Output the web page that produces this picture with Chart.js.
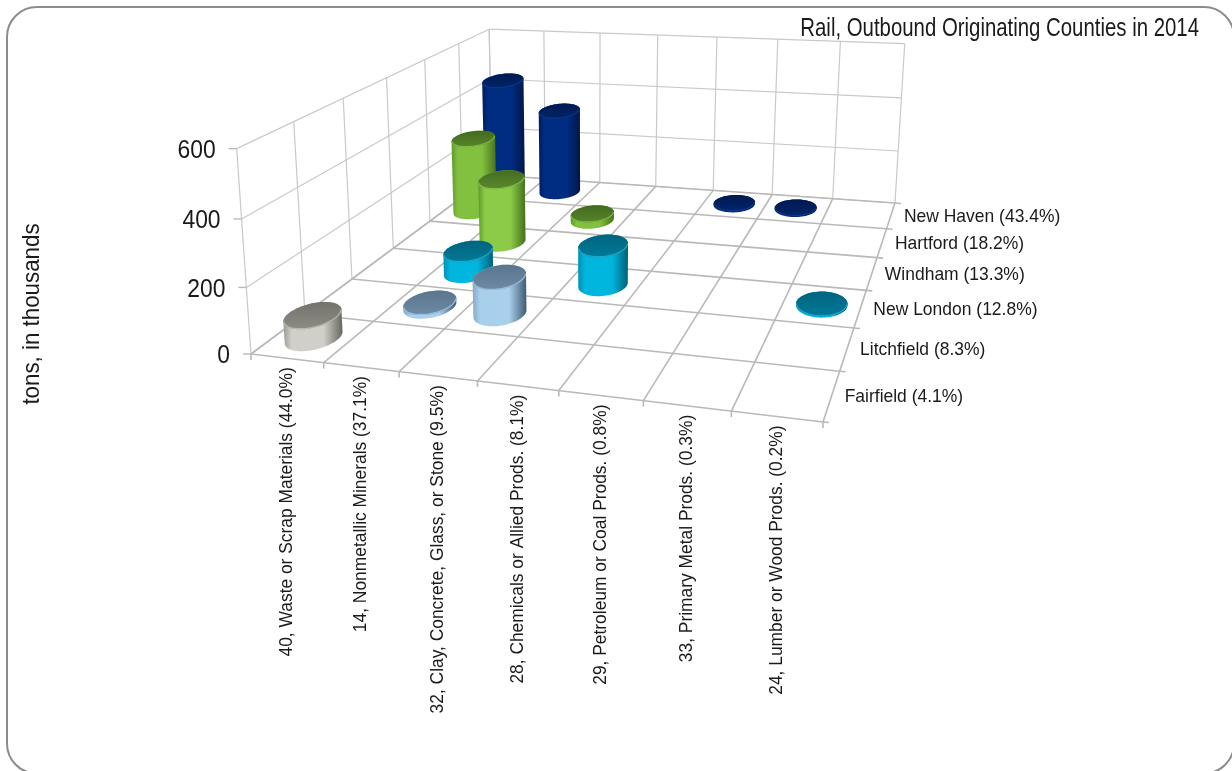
<!DOCTYPE html>
<html>
<head>
<meta charset="utf-8">
<title>Rail, Outbound Originating Counties in 2014</title>
<script src="https://cdn.jsdelivr.net/npm/chart.js@4/dist/chart.umd.min.js"></script>
<style>
  html, body { margin: 0; background: #fff; }
  canvas { display: block; }
</style>
</head>
<body>
<canvas id="chart" width="1232" height="771"></canvas>
<script>
// ── data ───────────────────────────────────────────────────────────
const TITLE = "Rail, Outbound Originating Counties in 2014";
const Y_TITLE = "tons, in thousands";
const CATEGORIES = [
  "40, Waste or Scrap Materials (44.0%)",
  "14, Nonmetallic Minerals (37.1%)",
  "32, Clay, Concrete, Glass, or Stone (9.5%)",
  "28, Chemicals or Allied Prods. (8.1%)",
  "29, Petroleum or Coal Prods. (0.8%)",
  "33, Primary Metal Prods. (0.3%)",
  "24, Lumber or Wood Prods. (0.2%)",
];
const SERIES = ["Fairfield (4.1%)", "Litchfield (8.3%)", "New London (12.8%)", "Windham (13.3%)", "Hartford (18.2%)", "New Haven (43.4%)"];
const FAIRFIELD = [68, null, null, null, null, null, null];
const LITCHFIELD = [null, 12, 116, null, null, null, null];
const NEW_LONDON = [null, 72, null, 130, null, null, 4];
const WINDHAM = [null, 226, null, null, null, null, null];
const HARTFORD = [278, null, 24, null, null, null, null];
const NEW_HAVEN = [430, 322, null, null, 5, 4, null];
const VALUES = [FAIRFIELD, LITCHFIELD, NEW_LONDON, WINDHAM, HARTFORD, NEW_HAVEN];

// side edge, side light, side shade, top back, top front, rim
const COLORS = [
  ["#9c9c94", "#d0d0c8", "#66665f", "#74746c", "#8c8c84", "#c8c8c0"],
  ["#86a9c6", "#a8cfec", "#3f5a72", "#5a758e", "#6e8aa4", "#a8cfec"],
  ["#0091b4", "#00b6de", "#005f7a", "#00647f", "#007a98", "#2db8d8"],
  ["#5f9a2c", "#8ccb47", "#44701c", "#446c20", "#5a8a2c", "#93cf52"],
  ["#5f9a2c", "#82c040", "#44701c", "#426a1f", "#56852a", "#8cc84a"],
  ["#001d5e", "#002c82", "#001648", "#001a50", "#002468", "#0c3f9c"],
];

// ── projectie: vloerhoeken en bovenhoeken van de kubus op het scherm ──
const FLOOR = [[251, 354], [823, 422], [895, 203], [492, 175]]; // (0,0) (1,0) (1,1) (0,1)
const TOPS = [[0, 0, 238, 149], [0, 1, 488, 25], [1, 1, 905, 48]];
const CYL_R = 0.33;

function makeCamera() {
  const [[x0, y0], [x1, y1], [x2, y2], [x3, y3]] = FLOOR;
  const dx1 = x1 - x2, dx2 = x3 - x2, sx = x0 - x1 + x2 - x3;
  const dy1 = y1 - y2, dy2 = y3 - y2, sy = y0 - y1 + y2 - y3;
  const den = dx1 * dy2 - dx2 * dy1;
  const g = (sx * dy2 - dx2 * sy) / den, h = (dx1 * sy - sx * dy1) / den;
  const a = x1 - x0 + g * x1, b = x3 - x0 + h * x3;
  const c = y1 - y0 + g * y1, d = y3 - y0 + h * y3;
  // derde kolom (hoogte) met kleinste kwadraten uit de bovenhoeken
  const rowsA = [], rowsB = [], rowsC = [], rowsD = [];
  TOPS.forEach(([u, v, tx, ty]) => {
    const w = g * u + h * v + 1;
    rowsA.push(tx); rowsB.push(tx * w - (a * u + b * v + x0));
    rowsC.push(ty); rowsD.push(ty * w - (c * u + d * v + y0));
  });
  const mean = (l) => l.reduce((s, v) => s + v, 0) / l.length;
  const mA = mean(rowsA), mB = mean(rowsB), mC = mean(rowsC), mD = mean(rowsD);
  let nu = 0, de = 0;
  rowsA.forEach((_, k) => {
    nu += (rowsA[k] - mA) * (rowsB[k] - mB) + (rowsC[k] - mC) * (rowsD[k] - mD);
    de += (rowsA[k] - mA) ** 2 + (rowsC[k] - mC) ** 2;
  });
  const i = -nu / de, e = mA * i + mB, f = mC * i + mD;
  return (u, v, z) => {
    const w = g * u + h * v + i * z + 1;
    return [(a * u + b * v + e * z + x0) / w, (c * u + d * v + f * z + y0) / w];
  };
}
const project = makeCamera();

// ── helpers ────────────────────────────────────────────────────────
function line(ctx, p, q, color, width) {
  ctx.strokeStyle = color; ctx.lineWidth = width;
  ctx.beginPath(); ctx.moveTo(p[0], p[1]); ctx.lineTo(q[0], q[1]); ctx.stroke();
}

function label(ctx, text, x, y, size, squeeze, align, rot) {
  ctx.save();
  ctx.translate(x, y);
  if (rot) ctx.rotate(rot);
  ctx.scale(squeeze, 1);
  ctx.font = size + 'px "Liberation Sans", Arial, sans-serif';
  ctx.fillStyle = "#1a1a1a";
  ctx.textAlign = align; ctx.textBaseline = "middle";
  ctx.fillText(text, 0, 0);
  ctx.restore();
}

function tracePts(ctx, pts) {
  pts.forEach((p, k) => (k ? ctx.lineTo(p[0], p[1]) : ctx.moveTo(p[0], p[1])));
}

function drawCylinder(ctx, u, v, z, du, dv, col) {
  const N = 72, bottom = [], top = [];
  for (let k = 0; k < N; k++) {
    const t = (k / N) * Math.PI * 2;
    const uu = u + Math.cos(t) * CYL_R * du, vv = v + Math.sin(t) * CYL_R * dv;
    bottom.push(project(uu, vv, 0));
    top.push(project(uu, vv, z));
  }
  const cb = project(u, v, 0), ct = project(u, v, z);
  // deksel even hoog als de voet: het origineel knijpt de ellips niet samen
  const spread = (pts) => { const y = pts.map((p) => p[1]); return Math.max(...y) - Math.min(...y); };
  const stretch = spread(bottom) / spread(top);
  top.forEach((p) => { p[1] = ct[1] + (p[1] - ct[1]) * stretch; });

  // silhouet: de twee raakpunten loodrecht op de cilinderas
  let ax = ct[0] - cb[0], ay = ct[1] - cb[1];
  const len = Math.hypot(ax, ay) || 1; ax /= len; ay /= len;
  let iL = 0, iR = 0, minD = Infinity, maxD = -Infinity;
  bottom.forEach((p, k) => {
    const d = (p[0] - cb[0]) * -ay + (p[1] - cb[1]) * ax;
    if (d < minD) { minD = d; iL = k; }
    if (d > maxD) { maxD = d; iR = k; }
  });
  const arc = (pts, from, to) => {
    const out = [];
    for (let k = from; ; k = (k + 1) % N) { out.push(pts[k]); if (k === to) break; }
    return out;
  };
  const depth = (pts, c) => pts.reduce((s, p) => s + (p[0] - c[0]) * ax + (p[1] - c[1]) * ay, 0) / pts.length;
  const a1 = arc(bottom, iL, iR), a2 = arc(bottom, iR, iL);
  const frontFromL = depth(a1, cb) < depth(a2, cb);
  const frontB = frontFromL ? a1 : a2.slice().reverse();
  const backT = frontFromL ? arc(top, iR, iL) : arc(top, iL, iR).reverse();

  const xs = top.concat(bottom).map((p) => p[0]);
  const x0 = Math.min(...xs), x1 = Math.max(...xs);
  const grad = ctx.createLinearGradient(x0, 0, x1, 0);
  grad.addColorStop(0, col[0]);
  grad.addColorStop(0.14, col[1]);
  grad.addColorStop(0.68, col[1]);
  grad.addColorStop(1, col[2]);
  ctx.fillStyle = grad;
  ctx.beginPath();
  tracePts(ctx, frontB.concat(backT));
  ctx.closePath(); ctx.fill();

  // deksel: donker achter, iets lichter voor, met zachte rand
  const ys = top.map((p) => p[1]);
  const capGrad = ctx.createLinearGradient(0, Math.min(...ys), 0, Math.max(...ys));
  capGrad.addColorStop(0, col[3]);
  capGrad.addColorStop(1, col[4]);
  ctx.save();
  ctx.fillStyle = capGrad;
  ctx.beginPath(); tracePts(ctx, top); ctx.closePath(); ctx.fill();
  ctx.clip();
  const frontT = frontFromL ? arc(top, iL, iR) : arc(top, iR, iL);
  ctx.strokeStyle = col[5]; ctx.lineWidth = 2.4; ctx.globalAlpha = 0.75;
  ctx.beginPath(); tracePts(ctx, frontT); ctx.stroke();
  ctx.restore();
}

// ── plugin: tekent de 3D-box en cilinders uit de schalen van de chart ──
const box3d = {
  id: "box3d",
  afterDatasetsDraw(chart) {
    const { ctx, scales } = chart;
    const sx = scales.x, sy = scales.y, sz = scales.z;
    const fx = (v) => (sx.getPixelForValue(v) - sx.left) / sx.width;
    const fz = (v) => (sz.getPixelForValue(v) - sz.left) / sz.width;
    const fy = (v) => (sy.bottom - sy.getPixelForValue(v)) / sy.height;
    const W = "#c9c9c9", G = "#b9b9b9";
    ctx.save();

    // kader
    ctx.strokeStyle = "#8c8c8c"; ctx.lineWidth = 2;
    ctx.beginPath(); ctx.roundRect(7, 7, 1227, 766.5, 30); ctx.stroke();

    // wanden
    sy.ticks.forEach((t) => {
      const h = fy(t.value);
      const a = project(0, 0, h), b = project(0, 1, h), c = project(1, 1, h);
      line(ctx, a, b, W, 1.2);
      line(ctx, b, c, W, 1.2);
      line(ctx, a, [a[0] - 8, a[1]], G, 1.4);
      label(ctx, String(t.value), a[0] - 21, a[1] + 2, 26, 0.88, "right");
    });
    const topV = fy(sy.max);
    for (let k = 0; k <= SERIES.length; k++) {
      const v = fz(k - 0.5);
      line(ctx, project(0, v, 0), project(0, v, topV), W, 1.2);
    }
    for (let k = 0; k <= CATEGORIES.length; k++) {
      const u = fx(k - 0.5);
      line(ctx, project(u, 1, 0), project(u, 1, topV), W, 1.2);
    }

    // vloer
    for (let k = 0; k <= SERIES.length; k++) {
      const v = fz(k - 0.5), r = project(1, v, 0);
      line(ctx, project(0, v, 0), r, G, 1.6);
      line(ctx, r, [r[0] + 6, r[1] + 0.5], G, 1.6);
    }
    for (let k = 0; k <= CATEGORIES.length; k++) {
      const u = fx(k - 0.5), f = project(u, 0, 0);
      line(ctx, f, project(u, 1, 0), G, 1.6);
      line(ctx, f, [f[0], f[1] + 6], G, 1.6);
    }

    // cilinders, van achter naar voren
    const du = fx(1) - fx(0), dv = fz(1) - fz(0);
    for (let s = SERIES.length - 1; s >= 0; s--) {
      const meta = chart.getDatasetMeta(s);
      meta.data.forEach((bar, c) => {
        if (VALUES[s][c] == null) return;
        const u = (bar.x - sx.left) / sx.width;
        const z = (sy.bottom - bar.y) / sy.height;
        drawCylinder(ctx, u, fz(s), z, du, dv, COLORS[s]);
      });
    }

    // labels
    CATEGORIES.forEach((name, c) => {
      const p = project(fx(c), 0, 0);
      label(ctx, name, p[0], p[1] + 9, 19, 0.915, "right", -Math.PI / 2);
    });
    SERIES.forEach((name, s) => {
      const p = project(1, fz(s), 0);
      label(ctx, name, p[0] + 13, p[1] + 1, 19, 0.92, "left");
    });
    label(ctx, Y_TITLE, 32, 314, 24, 0.93, "center", -Math.PI / 2);
    label(ctx, TITLE, 1199, 29, 25, 0.815, "right");
    ctx.restore();
  },
};

new Chart(document.getElementById("chart"), {
  type: "bar",
  data: {
    labels: CATEGORIES,
    datasets: SERIES.map((name, s) => ({
      label: name, data: VALUES[s], backgroundColor: "transparent", grouped: false,
    })),
  },
  options: {
    responsive: false,
    animation: false,
    plugins: {
      legend: { display: false },
      tooltip: { enabled: false },
      title: { display: false },
    },
    scales: {
      x: { type: "category", display: false, offset: true },
      z: { type: "category", axis: "x", labels: SERIES, display: false, offset: true },
      y: { type: "linear", display: false, min: 0, max: 600, ticks: { stepSize: 200 } },
    },
  },
  plugins: [box3d],
});
</script>
</body>
</html>
